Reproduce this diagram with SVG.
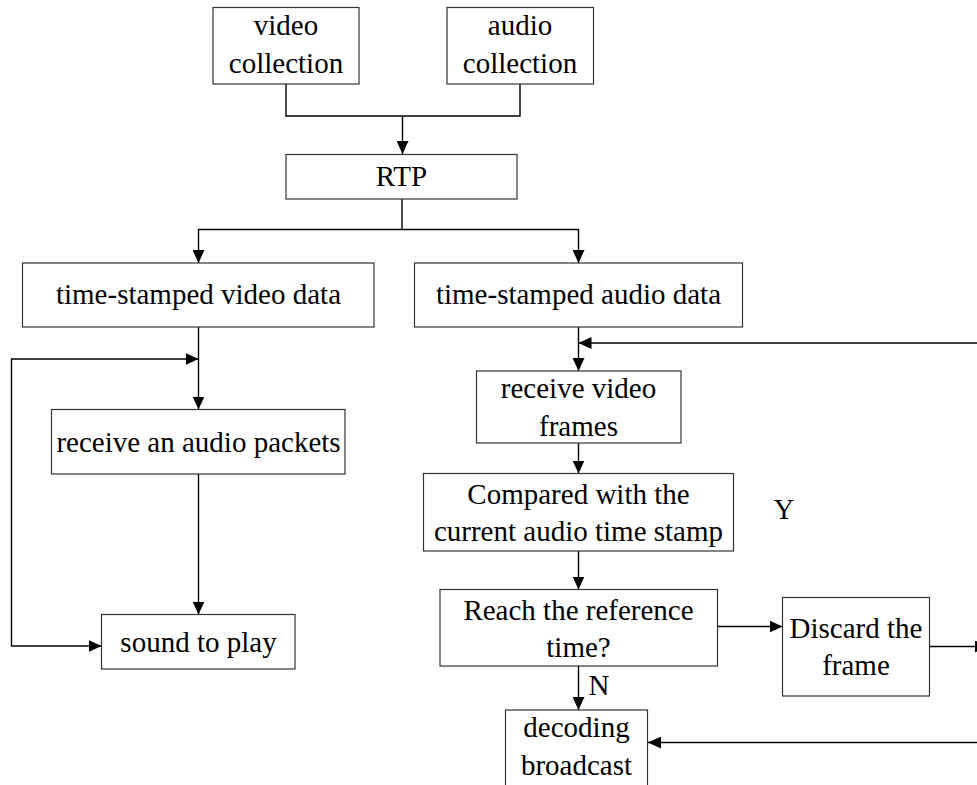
<svg xmlns="http://www.w3.org/2000/svg" width="977" height="785" viewBox="0 0 977 785">
<defs>
<style>
.box{fill:#fff;stroke:#333;stroke-width:1.2}
.t{font-family:'Liberation Serif','DejaVu Serif',serif;font-size:29px;fill:#000;text-anchor:middle}
.c{fill:none;stroke:#000;stroke-width:1.4}
.a{marker-end:url(#arr)}
</style>
<marker id="arr" markerUnits="userSpaceOnUse" markerWidth="13" markerHeight="12" refX="13" refY="6" orient="auto">
<path d="M0,0 L13,6 L0,12 z" fill="#000"/>
</marker>
</defs>
<rect width="977" height="785" fill="#fff"/>
<g id="connectors">
<path class="c" d="M286,84 V116 H520 V84"/>
<path class="c a" d="M402.5,116 V154"/>
<path class="c" d="M402,199 V229.5"/>
<path class="c a" d="M402,229.5 H198.5 V263"/>
<path class="c a" d="M402,229.5 H578.5 V263"/>
<path class="c a" d="M198.5,327 V409.5"/>
<path class="c a" d="M11.5,500 V359 H198.5"/>
<path class="c a" d="M11.5,500 V646 H101.5"/>
<path class="c a" d="M198.5,474 V614.5"/>
<path class="c a" d="M578.5,327 V371"/>
<path class="c a" d="M977,343 H578.5"/>
<path class="c a" d="M578.5,443 V473.5"/>
<path class="c a" d="M578.5,551 V589.5"/>
<path class="c a" d="M717.5,626.5 H782.5"/>
<path class="c a" d="M578.5,666 V710"/>
<path class="c a" d="M929.5,646.5 H988"/>
<path class="c a" d="M977,742.5 H648"/>
</g>
<g id="video_collection">
<rect class="box" x="213" y="7.5" width="146" height="76.5"/>
<text class="t" font-family="Liberation Serif, serif" x="286" y="35">video</text>
<text class="t" font-family="Liberation Serif, serif" x="286" y="73">collection</text>
</g>
<g id="audio_collection">
<rect class="box" x="447" y="7.5" width="146.5" height="76.5"/>
<text class="t" x="520" y="35">audio</text>
<text class="t" x="520" y="73">collection</text>
</g>
<g id="rtp">
<rect class="box" x="286" y="154.5" width="231" height="44.5"/>
<text class="t" x="401.5" y="186">RTP</text>
</g>
<g id="video_data">
<rect class="box" x="22.5" y="263" width="351.5" height="64"/>
<text class="t" x="198.5" y="304">time-stamped video data</text>
</g>
<g id="audio_data">
<rect class="box" x="414.5" y="263" width="328" height="64"/>
<text class="t" x="578.5" y="304">time-stamped audio data</text>
</g>
<g id="receive_audio">
<rect class="box" x="51.5" y="409.5" width="293.5" height="64.5"/>
<text class="t" x="198.5" y="452">receive an audio packets</text>
</g>
<g id="sound_play">
<rect class="box" x="101.5" y="614.5" width="193.5" height="54.5"/>
<text class="t" x="198.5" y="652">sound to play</text>
</g>
<g id="receive_video">
<rect class="box" x="476.5" y="371" width="204.5" height="72"/>
<text class="t" x="578.5" y="398">receive video</text>
<text class="t" x="578.5" y="435.5">frames</text>
</g>
<g id="compared">
<rect class="box" x="423.5" y="473.5" width="310" height="77.5"/>
<text class="t" x="578.5" y="503.5">Compared with the</text>
<text class="t" x="578.5" y="541">current audio time stamp</text>
</g>
<g id="reach">
<rect class="box" x="440" y="589.5" width="277.5" height="76.5"/>
<text class="t" x="578.5" y="620">Reach the reference</text>
<text class="t" x="578.5" y="657">time?</text>
</g>
<g id="discard">
<rect class="box" x="782.5" y="597.5" width="147" height="98.5"/>
<text class="t" x="856" y="637.5">Discard the</text>
<text class="t" x="856" y="675">frame</text>
</g>
<g id="decoding">
<rect class="box" x="505.5" y="710" width="142" height="90"/>
<text class="t" x="576.5" y="737">decoding</text>
<text class="t" x="576.5" y="775">broadcast</text>
</g>
<g id="labels">
<text class="t" x="599" y="695">N</text>
<text class="t" x="784" y="518.5">Y</text>
</g>
</svg>
